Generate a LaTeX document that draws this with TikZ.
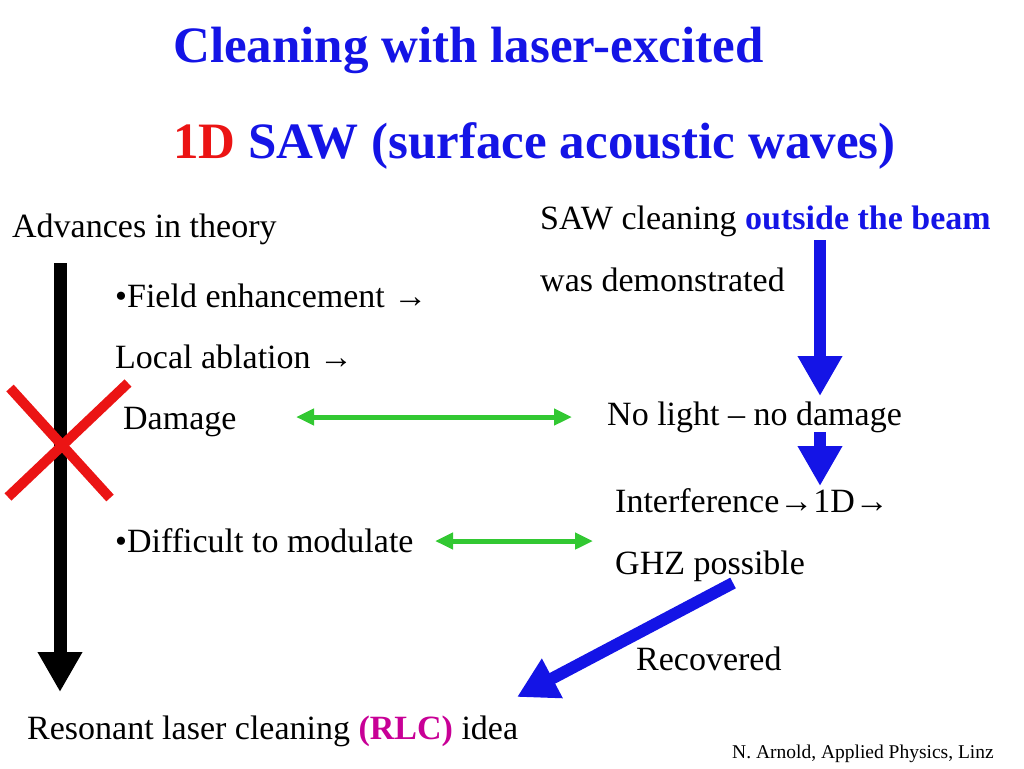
\documentclass[tikz,border=0pt]{standalone}
\usepackage{fontspec}
\setmainfont{Liberation Serif}
\usetikzlibrary{arrows.meta,positioning}
\definecolor{tblue}{RGB}{20,20,230}
\definecolor{tred}{RGB}{235,20,20}
\definecolor{tgreen}{RGB}{50,200,50}
\definecolor{tmag}{RGB}{200,0,150}
\tikzset{
  txt/.style={anchor=base west, inner sep=0pt, font=\fontsize{34}{38}\selectfont},
  head/.style={anchor=base west, inner sep=0pt, font=\fontsize{51}{55}\selectfont\bfseries, text=tblue},
  fat/.style={line width=#1, -{Triangle[length=40pt,width=42pt]}},
  both/.style={line width=5pt, {Triangle[length=18pt,width=16pt]}-{Triangle[length=18pt,width=16pt]}, draw=tgreen}
}
\begin{document}
\begin{tikzpicture}[x=1pt,y=-1pt]
\useasboundingbox (0,0) rectangle (1024,768);

%Title
\node[head] (t1) at (173,63) {Cleaning with laser-excited};
\node[head] (t2) at (173,158) {\textcolor{tred}{1D} SAW (surface acoustic waves)};

%Left column
\node[txt] (adv) at (12,237) {Advances in theory};
\node[txt] (fe) at (115,307) {•Field enhancement →};
\node[txt] (la) at (115,368) {Local ablation →};
\node[txt] (dm) at (123,429) {Damage};
\node[txt] (dif) at (115,552) {•Difficult to modulate};
\node[txt] (rlc) at (27,739) {Resonant laser cleaning \textcolor{tmag}{\textbf{(RLC)}} idea};

%Right column
\node[txt] (saw) at (540,229) {SAW cleaning \textcolor{tblue}{\textbf{outside the beam}}};
\node[txt] (dem) at (540,291) {was demonstrated};
\node[txt] (nl) at (607,425) {No light -- no damage};
\node[txt] (int) at (615,512) {Interference→1D→};
\node[txt] (ghz) at (615,574) {GHZ possible};
\node[txt] (rec) at (636,670) {Recovered};
\node[anchor=base east, inner sep=0pt, font=\fontsize{19.5}{22}\selectfont] (auth) at (994,758) {N. Arnold, Applied Physics, Linz};

%Arrows
\coordinate (a0) at (60,263);
\coordinate (a1) at (60,692);
\draw[fat=13pt] (a0) -- (a1);
\coordinate (b0) at (820,240);
\coordinate (b1) at (820,396);
\draw[fat=12pt, draw=tblue, fill=tblue] (b0) -- (b1);
\coordinate (c0) at (820,432);
\coordinate (c1) at (820,486);
\draw[fat=12pt, draw=tblue, fill=tblue] (c0) -- (c1);
\coordinate (d0) at (733,583);
\coordinate (d1) at (517,697);
\draw[fat=12pt, draw=tblue, fill=tblue] (d0) -- (d1);
\coordinate (g0) at (296,417);
\coordinate (g1) at (572,417);
\draw[both] (g0) -- (g1);
\coordinate (h0) at (435,541);
\coordinate (h1) at (593,541);
\draw[both] (h0) -- (h1);

%Cross
\draw[tred, line width=10pt] (10,388) -- (110,498);
\draw[tred, line width=10pt] (128,383) -- (8,497);
\end{tikzpicture}
\end{document}
